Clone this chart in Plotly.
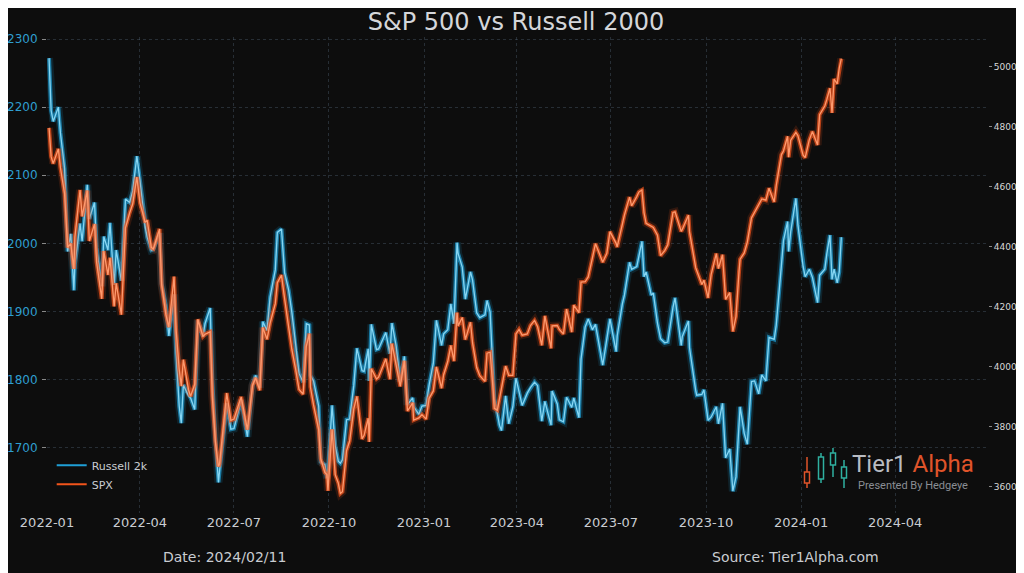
import plotly.graph_objects as go

# weekly-ish closes (plus a few swing highs / lows)
dates = [
    "2022-01-03", "2022-01-05", "2022-01-07", "2022-01-12", "2022-01-14", "2022-01-18", "2022-01-21", "2022-01-24",
    "2022-01-27", "2022-01-28", "2022-02-02", "2022-02-04", "2022-02-09", "2022-02-11", "2022-02-16", "2022-02-18",
    "2022-02-23", "2022-02-25", "2022-03-01", "2022-03-03", "2022-03-07", "2022-03-09", "2022-03-14", "2022-03-18",
    "2022-03-22", "2022-03-25", "2022-03-29", "2022-04-01", "2022-04-06", "2022-04-08", "2022-04-12", "2022-04-14",
    "2022-04-20", "2022-04-22", "2022-04-26", "2022-04-29", "2022-05-04", "2022-05-06", "2022-05-09", "2022-05-11",
    "2022-05-13", "2022-05-18", "2022-05-20", "2022-05-24", "2022-05-27", "2022-06-01", "2022-06-03", "2022-06-08",
    "2022-06-10", "2022-06-13", "2022-06-16", "2022-06-17", "2022-06-24", "2022-06-28", "2022-07-01", "2022-07-08",
    "2022-07-14", "2022-07-19", "2022-07-22", "2022-07-26", "2022-07-29", "2022-08-02", "2022-08-05", "2022-08-10",
    "2022-08-12", "2022-08-16", "2022-08-19", "2022-08-23", "2022-08-26", "2022-08-30", "2022-09-02", "2022-09-06",
    "2022-09-09", "2022-09-12", "2022-09-13", "2022-09-16", "2022-09-21", "2022-09-23", "2022-09-27", "2022-09-29",
    "2022-09-30", "2022-10-04", "2022-10-07", "2022-10-10", "2022-10-12", "2022-10-14", "2022-10-18", "2022-10-21",
    "2022-10-25", "2022-10-28", "2022-11-02", "2022-11-04", "2022-11-08", "2022-11-09", "2022-11-11", "2022-11-16",
    "2022-11-18", "2022-11-25", "2022-11-29", "2022-12-01", "2022-12-05", "2022-12-09", "2022-12-13", "2022-12-16",
    "2022-12-21", "2022-12-22", "2022-12-27", "2022-12-30",
    "2023-01-03", "2023-01-06", "2023-01-10", "2023-01-13", "2023-01-18", "2023-01-20", "2023-01-24", "2023-01-27",
    "2023-01-30", "2023-02-02", "2023-02-03", "2023-02-07", "2023-02-10", "2023-02-15", "2023-02-17", "2023-02-21",
    "2023-02-24", "2023-03-01", "2023-03-03", "2023-03-06", "2023-03-09", "2023-03-10", "2023-03-13", "2023-03-15",
    "2023-03-17", "2023-03-21", "2023-03-24", "2023-03-28", "2023-03-31", "2023-04-03", "2023-04-06", "2023-04-11",
    "2023-04-14", "2023-04-18", "2023-04-21", "2023-04-25", "2023-04-28", "2023-05-04", "2023-05-05", "2023-05-10",
    "2023-05-12", "2023-05-16", "2023-05-19", "2023-05-24", "2023-05-26", "2023-05-31", "2023-06-02", "2023-06-06",
    "2023-06-09", "2023-06-13", "2023-06-16", "2023-06-23", "2023-06-27", "2023-06-30", "2023-07-06", "2023-07-07",
    "2023-07-12", "2023-07-14", "2023-07-19", "2023-07-21", "2023-07-26", "2023-07-28", "2023-07-31", "2023-08-02",
    "2023-08-04", "2023-08-09", "2023-08-11", "2023-08-15", "2023-08-18", "2023-08-22", "2023-08-25", "2023-08-30",
    "2023-09-01", "2023-09-07", "2023-09-08", "2023-09-14", "2023-09-15", "2023-09-21", "2023-09-22", "2023-09-27",
    "2023-09-29", "2023-10-03", "2023-10-06", "2023-10-11", "2023-10-13", "2023-10-17", "2023-10-20", "2023-10-24",
    "2023-10-27", "2023-10-30", "2023-11-02", "2023-11-03", "2023-11-07", "2023-11-10", "2023-11-14", "2023-11-17",
    "2023-11-21", "2023-11-24", "2023-11-28", "2023-12-01", "2023-12-06", "2023-12-08", "2023-12-13", "2023-12-15",
    "2023-12-19", "2023-12-20", "2023-12-22", "2023-12-27", "2023-12-29",
    "2024-01-03", "2024-01-05", "2024-01-09", "2024-01-12", "2024-01-17", "2024-01-19", "2024-01-24", "2024-01-26",
    "2024-01-29", "2024-01-31", "2024-02-02", "2024-02-05", "2024-02-07", "2024-02-09",
]

russell = [
    2272, 2195, 2179, 2200, 2162, 2110, 1988, 2014,
    1931, 1969, 2029, 2003, 2086, 2036, 2060, 1994,
    1937, 2010, 1990, 2030, 1939, 1990, 1945, 2065,
    2060, 2077, 2128, 2093, 2024, 2009, 1990, 1991,
    2015, 1941, 1909, 1864, 1925, 1839, 1761, 1736,
    1792, 1776, 1773, 1756, 1887, 1863, 1882, 1905,
    1800, 1714, 1649, 1665, 1765, 1727, 1728, 1770,
    1716, 1792, 1806, 1788, 1885, 1872, 1921, 1961,
    2016, 2021, 1957, 1931, 1899, 1842, 1809, 1796,
    1882, 1880, 1806, 1798, 1761, 1679, 1675, 1655,
    1665, 1762, 1703, 1680, 1677, 1682, 1741, 1742,
    1791, 1846, 1813, 1812, 1845, 1798, 1881, 1844,
    1845, 1869, 1838, 1883, 1849, 1797, 1834, 1763,
    1773, 1760, 1749, 1761,
    1762, 1792, 1824, 1887, 1850, 1867, 1873, 1911,
    1882, 2001, 1985, 1965, 1918, 1958, 1946, 1898,
    1891, 1895, 1916, 1899, 1817, 1772, 1750, 1733,
    1725, 1776, 1735, 1760, 1802, 1784, 1762, 1780,
    1788, 1796, 1791, 1739, 1768, 1733, 1783, 1764,
    1741, 1738, 1774, 1759, 1773, 1744, 1830, 1877,
    1889, 1873, 1881, 1821, 1859, 1889, 1841, 1864,
    1911, 1924, 1972, 1962, 1966, 1982, 2003, 1951,
    1958, 1924, 1927, 1883, 1860, 1854, 1855, 1906,
    1920, 1850, 1863, 1886, 1847, 1784, 1777, 1778,
    1785, 1740, 1745, 1760, 1735, 1765, 1685, 1698,
    1636, 1657, 1750, 1760, 1721, 1705, 1797, 1798,
    1779, 1807, 1798, 1862, 1859, 1880, 1968, 2004,
    2032, 1988, 2017, 2066, 2027,
    1966, 1951, 1962, 1950, 1913, 1953, 1962, 1985,
    2012, 1947, 1962, 1942, 1958, 2009,
]

spx = [
    4796, 4700, 4677, 4726, 4663, 4577, 4398, 4410,
    4326, 4432, 4589, 4501, 4587, 4419, 4475, 4349,
    4226, 4385, 4306, 4363, 4201, 4278, 4173, 4463,
    4512, 4543, 4632, 4546, 4481, 4488, 4397, 4393,
    4459, 4272, 4175, 4132, 4300, 4123, 3991, 3935,
    4023, 3923, 3901, 3941, 4158, 4101, 4108, 4116,
    3901, 3750, 3667, 3675, 3912, 3821, 3825, 3899,
    3790, 3937, 3962, 3921, 4130, 4091, 4145, 4210,
    4280, 4305, 4228, 4128, 4058, 3986, 3924, 3908,
    4067, 4110, 3932, 3873, 3790, 3693, 3647, 3640,
    3586, 3791, 3640, 3612, 3577, 3583, 3720, 3752,
    3859, 3901, 3759, 3771, 3828, 3749, 3993, 3959,
    3965, 4026, 3958, 4077, 3999, 3934, 4019, 3852,
    3879, 3822, 3829, 3840,
    3825, 3895, 3919, 3999, 3928, 3973, 4017, 4071,
    4018, 4180, 4136, 4164, 4090, 4148, 4079, 3997,
    3970, 3951, 4045, 4048, 3918, 3861, 3855, 3891,
    3917, 4002, 3971, 3971, 4109, 4124, 4105, 4109,
    4137, 4154, 4133, 4071, 4169, 4061, 4136, 4137,
    4124, 4109, 4192, 4115, 4205, 4180, 4282, 4283,
    4299, 4369, 4410, 4348, 4378, 4450, 4411, 4399,
    4473, 4505, 4565, 4536, 4567, 4582, 4589, 4513,
    4478, 4468, 4464, 4438, 4370, 4387, 4406, 4514,
    4516, 4451, 4457, 4505, 4450, 4330, 4320, 4274,
    4288, 4229, 4308, 4377, 4327, 4373, 4224, 4247,
    4117, 4167, 4318, 4358, 4379, 4415, 4496, 4514,
    4538, 4559, 4555, 4595, 4549, 4604, 4707, 4719,
    4768, 4698, 4755, 4781, 4770,
    4705, 4697, 4756, 4784, 4739, 4840, 4869, 4891,
    4928, 4846, 4959, 4943, 4995, 5027,
]

rut_color = "#1f9fd6"
spx_color = "#f2541b"
txt = "#c9ccd1"
font_main = "DejaVu Sans"

fig = go.Figure()

# glow layers first, crisp line last
for vals, col, core, name, ax in [
    (russell, rut_color, "#86d6f3", "Russell 2k", "y"),
    (spx, spx_color, "#ff9a6e", "SPX", "y2"),
]:
    fig.add_trace(go.Scatter(x=dates, y=vals, mode="lines", yaxis=ax, showlegend=False, hoverinfo="skip",
                             line=dict(color=col, width=8), opacity=0.15))
    fig.add_trace(go.Scatter(x=dates, y=vals, mode="lines", yaxis=ax, showlegend=False, hoverinfo="skip",
                             line=dict(color=col, width=4), opacity=0.7))
    fig.add_trace(go.Scatter(x=dates, y=vals, mode="lines", yaxis=ax, showlegend=False,
                             line=dict(color=core, width=1.3)))
    # legend-only entry
    fig.add_trace(go.Scatter(x=[None], y=[None], mode="lines", yaxis=ax, name=name,
                             line=dict(color=col, width=2)))

grid = "rgba(90,110,130,0.35)"

# page has an 8px body margin, so the figure is 8px smaller than the window
fig.update_layout(
    width=1016, height=565,
    paper_bgcolor="#0d0d0d", plot_bgcolor="#0d0d0d",
    margin=dict(l=39, r=36, t=29, b=60),
    font=dict(family=font_main, color=txt),
    title=dict(text="S&P 500 vs Russell 2000", x=0.5, xanchor="center", yref="container",
               y=1 - 14 / 565, yanchor="middle", pad=dict(t=0, b=0),
               font=dict(size=24, color="#d4d6da", family=font_main)),
    showlegend=True,
    legend=dict(x=0.005, y=0.03, xanchor="left", yanchor="bottom", bgcolor="rgba(0,0,0,0)",
                font=dict(size=11, color=txt), itemwidth=30, tracegroupgap=2),
    xaxis=dict(type="date", range=["2022-01-01", "2024-06-30"], dtick="M3", tickformat="%Y-%m",
               tick0="2022-01-01", showgrid=True, gridcolor=grid, griddash="dot", gridwidth=1,
               zeroline=False, showline=False, ticks="", automargin=False,
               tickfont=dict(size=13, color=txt)),
    yaxis=dict(range=[1604, 2303], dtick=100, showgrid=True, gridcolor=grid, griddash="dot",
               zeroline=False, showline=False, ticks="outside", ticklen=4, tickcolor="#888",
               ticklabelstandoff=2, automargin=False,
               tickfont=dict(size=12, color="#2f9fd0")),
    yaxis2=dict(overlaying="y", side="right", range=[3512, 5099], dtick=200, showgrid=False,
                zeroline=False, showline=False, ticks="outside", ticklen=3, tickcolor="#888",
                automargin=False, tickfont=dict(size=9, color="#d8d8d8")),
)

# Tier1 Alpha logo: hollow candlesticks + wordmark (positions in window pixels)
def px(x):
    return (x - 47) / (988 - 47)

def py(y):
    return (513 - y) / (513 - 37)

candles = [(807, 457, 488, 472, 483, "#e0542a"),
           (821, 453, 483, 457, 479, "#2fb0a0"),
           (833, 448, 477, 453, 465, "#2fb0a0"),
           (844, 460, 488, 467, 478, "#2fb0a0")]
for cx, wt, wb, bt, bb, c in candles:
    fig.add_shape(type="line", xref="paper", yref="paper", x0=px(cx), x1=px(cx), y0=py(wt), y1=py(wb),
                  line=dict(color=c, width=1.5))
    fig.add_shape(type="rect", xref="paper", yref="paper", x0=px(cx - 2.5), x1=px(cx + 2.5), y0=py(bt), y1=py(bb),
                  line=dict(color=c, width=1.5), fillcolor="#0d0d0d")

fig.add_annotation(xref="paper", yref="paper", x=px(850), y=py(464), xanchor="left", yanchor="middle",
                   showarrow=False, text="Tier1 <span style='color:#e0542a'>Alpha</span>",
                   font=dict(size=24, color="#b8bcc2", family="Roboto"))
fig.add_annotation(xref="paper", yref="paper", x=px(856), y=py(485), xanchor="left", yanchor="middle",
                   showarrow=False, text="Presented By Hedgeye",
                   font=dict(size=11, color="#8a8e94", family="Roboto"))

# footer
fig.add_annotation(xref="paper", yref="paper", x=px(224), y=py(557), xanchor="center", yanchor="middle",
                   showarrow=False, text="Date: 2024/02/11", font=dict(size=14, color=txt))
fig.add_annotation(xref="paper", yref="paper", x=px(795), y=py(557), xanchor="center", yanchor="middle",
                   showarrow=False, text="Source: Tier1Alpha.com", font=dict(size=14, color=txt))

fig.write_html("out.html")
